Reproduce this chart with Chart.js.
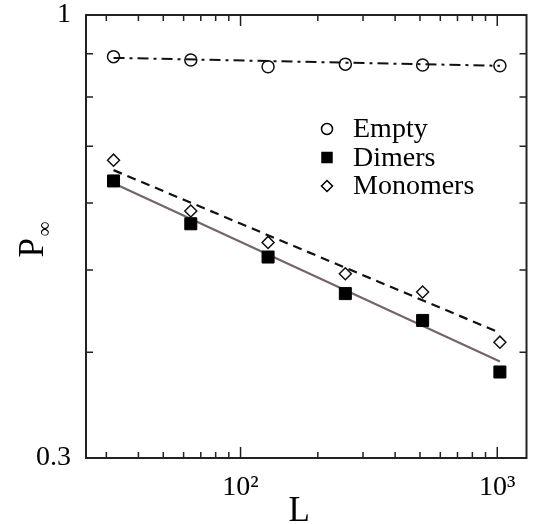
<!DOCTYPE html>
<html>
<head>
<meta charset="utf-8">
<script src="https://cdn.jsdelivr.net/npm/chart.js@4"></script>
<style>
  html, body { margin: 0; padding: 0; background: #fff; }
  #wrap { width: 536px; height: 524px; }
</style>
</head>
<body>
<div id="wrap"><canvas id="chart" width="536" height="524"></canvas></div>
<script>
const sizes = [32, 64, 128, 256, 512, 1024];
const emptyVals = [0.893, 0.885, 0.869, 0.875, 0.873, 0.871];
const dimerVals = [0.637, 0.567, 0.518, 0.469, 0.436, 0.379];
const monomerVals = [0.674, 0.587, 0.539, 0.495, 0.471, 0.411];

// power-law fit lines, end points at L = 32 and L = 1024
const fitL = [32, 1024];
const emptyFit = [0.890, 0.871];
const dimerFit = [0.633, 0.390];
const monomerFit = [0.656, 0.4216];

const xTicks = [30, 40, 50, 60, 70, 80, 90, 100, 200, 300, 400, 500, 600, 700, 800, 900, 1000];
const xMajor = [100, 1000];
const xLabels = { 100: "10²", 1000: "10³" };
const yTicks = [0.3, 0.4, 0.5, 0.6, 0.7, 0.8, 0.9, 1];
const yLabels = { 0.3: "0.3", 1: "1" };

const serif = "'Liberation Serif', 'DejaVu Serif', serif";

const pts = (xs, ys) => xs.map((x, i) => ({ x: x, y: ys[i] }));

const frameAndTicks = {
  id: "frameAndTicks",
  afterDatasetsDraw(chart) {
    const { ctx, chartArea: a, scales } = chart;
    ctx.save();
    ctx.strokeStyle = "#222";
    ctx.lineWidth = 1.5;
    xTicks.forEach((v) => {
      const px = scales.x.getPixelForValue(v);
      const len = xMajor.includes(v) ? 11 : 6;
      ctx.beginPath();
      ctx.moveTo(px, a.bottom); ctx.lineTo(px, a.bottom - len);
      ctx.moveTo(px, a.top); ctx.lineTo(px, a.top + len);
      ctx.stroke();
    });
    yTicks.forEach((v) => {
      const py = scales.y.getPixelForValue(v);
      const len = 7;
      ctx.beginPath();
      ctx.moveTo(a.left, py); ctx.lineTo(a.left + len, py);
      ctx.moveTo(a.right, py); ctx.lineTo(a.right - len, py);
      ctx.stroke();
    });
    ctx.lineWidth = 2;
    ctx.strokeRect(a.left, a.top, a.right - a.left, a.bottom - a.top);

    // axis titles
    ctx.fillStyle = "#000";
    ctx.font = "35px " + serif;
    ctx.textAlign = "center";
    ctx.textBaseline = "alphabetic";
    ctx.fillText("L", (a.left + a.right) / 2 - 7, 521);

    ctx.translate(43, (a.top + a.bottom) / 2 + 21);
    ctx.rotate(-Math.PI / 2);
    ctx.textAlign = "left";
    ctx.font = "35px " + serif;
    ctx.fillText("P", 0, 0);
    ctx.font = "21px " + serif;
    ctx.fillText("∞", 21, 8);
    ctx.restore();

    // legend inside the plot
    const rows = [
      { label: "Empty", style: "circle" },
      { label: "Dimers", style: "rect" },
      { label: "Monomers", style: "diamond" }
    ];
    ctx.save();
    ctx.font = "28px " + serif;
    ctx.textBaseline = "middle";
    rows.forEach((r, i) => {
      const cx = a.left + 241;
      const cy = a.top + 114 + i * 28.5;
      ctx.strokeStyle = "#000";
      ctx.lineWidth = 1.5;
      ctx.beginPath();
      if (r.style === "circle") ctx.arc(cx, cy, 5.5, 0, Math.PI * 2);
      else if (r.style === "rect") ctx.rect(cx - 5, cy - 5, 10, 10);
      else { ctx.moveTo(cx, cy - 5.5); ctx.lineTo(cx + 5.5, cy); ctx.lineTo(cx, cy + 5.5); ctx.lineTo(cx - 5.5, cy); ctx.closePath(); }
      ctx.fillStyle = r.style === "rect" ? "#000" : "#fff";
      ctx.fill();
      ctx.stroke();
      ctx.fillStyle = "#000";
      ctx.fillText(r.label, cx + 26, cy + 1);
    });
    ctx.restore();
  }
};

new Chart(document.getElementById("chart"), {
  type: "scatter",
  data: {
    datasets: [
      {
        label: "Empty",
        data: pts(sizes, emptyVals),
        pointStyle: "circle",
        pointRadius: 6,
        pointBorderWidth: 1.5,
        pointBorderColor: "#111",
        pointBackgroundColor: "rgba(255,255,255,0)",
        showLine: false,
        order: 1
      },
      {
        label: "Empty fit",
        data: pts(fitL, emptyFit),
        showLine: true,
        pointRadius: 0,
        borderColor: "#111",
        borderWidth: 2,
        borderDash: [11, 5, 3, 5],
        order: 2
      },
      {
        label: "Dimers",
        data: pts(sizes, dimerVals),
        pointStyle: "rect",
        pointRadius: 8.5,
        pointBorderWidth: 1,
        pointBorderColor: "#000",
        pointBackgroundColor: "#000",
        showLine: false,
        order: 1
      },
      {
        label: "Dimers fit",
        data: pts(fitL, dimerFit),
        showLine: true,
        pointRadius: 0,
        borderColor: "#766565",
        borderWidth: 2.2,
        order: 2
      },
      {
        label: "Monomers",
        data: pts(sizes, monomerVals),
        pointStyle: "rectRot",
        pointRadius: 6,
        pointBorderWidth: 1.5,
        pointBorderColor: "#111",
        pointBackgroundColor: "#fff",
        showLine: false,
        order: 1
      },
      {
        label: "Monomers fit",
        data: pts(fitL, monomerFit),
        showLine: true,
        pointRadius: 0,
        borderColor: "#111",
        borderWidth: 2.2,
        borderDash: [9, 6],
        order: 2
      }
    ]
  },
  options: {
    responsive: false,
    animation: false,
    layout: { padding: { top: 15, right: 6, left: 0, bottom: 0 } },
    plugins: { legend: { display: false }, tooltip: { enabled: false } },
    scales: {
      x: {
        type: "logarithmic",
        min: 25,
        max: 1300,
        grid: { display: false, drawTicks: false },
        border: { display: false },
        afterBuildTicks: (s) => { s.ticks = xTicks.map((v) => ({ value: v })); },
        afterFit: (s) => { s.height = 66; s.paddingLeft = 0; s.paddingRight = 0; },
        ticks: {
          autoSkip: false,
          maxRotation: 0,
          padding: 13,
          color: "#000",
          font: { family: serif, size: 28 },
          callback: (v) => xLabels[v] || ""
        }
      },
      y: {
        type: "logarithmic",
        min: 0.3,
        max: 1,
        grid: { display: false, drawTicks: false },
        border: { display: false },
        afterBuildTicks: (s) => { s.ticks = yTicks.map((v) => ({ value: v })); },
        afterFit: (s) => { s.width = 86; s.paddingTop = 0; s.paddingBottom = 0; },
        ticks: {
          autoSkip: false,
          padding: 15,
          color: "#000",
          font: { family: serif, size: 28 },
          callback: (v) => yLabels[v] || ""
        }
      }
    }
  },
  plugins: [frameAndTicks]
});
</script>
</body>
</html>
